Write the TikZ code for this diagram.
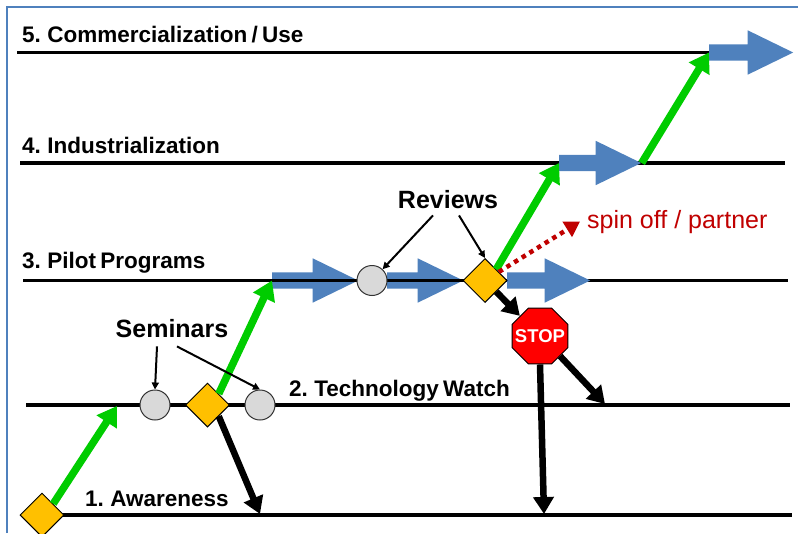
\documentclass[tikz,border=0pt]{standalone}
\usepackage{fontspec}
\setmainfont{Liberation Sans}
\usetikzlibrary{arrows.meta,shapes.geometric,shapes.arrows}
\definecolor{framecol}{HTML}{4F81BD}
\definecolor{flowgreen}{HTML}{00CC00}
\definecolor{spinred}{HTML}{C00000}
\definecolor{gatecol}{HTML}{FFC000}
\newcommand{\titlefont}{\bfseries\fontsize{22.5}{26}\selectfont\spaceskip=.19em\relax}
\begin{document}
\begin{tikzpicture}[x=1pt,y=-1pt,
	level/.style={line width=3.5pt},
	title/.style={anchor=base west,inner sep=0pt,font=\titlefont},
	callout/.style={anchor=base,inner sep=0pt,font=\bfseries\fontsize{25}{30}\selectfont},
	gate/.style={diamond,draw=black,fill=gatecol,line width=1pt,minimum size=44pt,inner sep=0pt},
	meet/.style={circle,draw=black!80,fill=black!15,line width=1pt,minimum size=30pt,inner sep=0pt},
	phase/.style={single arrow,anchor=tail,fill=framecol,minimum width=44pt,single arrow head extend=14pt,single arrow tip angle=52,single arrow head indent=0pt,inner xsep=0pt,inner ysep=8pt},
	go/.style={flowgreen,line width=7.5pt,-{Triangle[length=19pt,width=23pt]}},
	drop/.style={black,line width=6.5pt,-{Triangle[length=17pt,width=20pt]}},
	note/.style={black,line width=2pt,-{Triangle[length=7pt,width=7pt]}}]

\useasboundingbox (0,0) rectangle (798,533);
\draw[framecol,line width=2pt] (7,533) -- (7,7) -- (798,7);

\node[phase,minimum height=86pt] (jag1) at (272,280.5) {};
\node[phase,minimum height=76pt] (jag2) at (387,280.5) {};

\foreach \n/\xa/\xb/\y in {5/17/710/52.5,4/20/785/163,3/23/788/280.5,2/26/790/405,1/60/792/515}{
	\coordinate (a\n) at (\xa,\y);
	\coordinate (b\n) at (\xb,\y);
	\draw[level] (a\n) -- (b\n);
}

\node[title] (t5) at (22,42) {5. Commercialization / Use};
\node[title] (t4) at (22,153) {4. Industrialization};
\node[title] (t3) at (22,268) {3. Pilot Programs};
\node[title] (t2) at (289,396) {2. Technology Watch};
\node[title] (t1) at (85,506) {1. Awareness};
\node[callout] (seminars) at (172,337) {Seminars};
\node[callout] (reviews) at (448,208) {Reviews};
\node[anchor=base west,inner sep=0pt,text=spinred,font=\fontsize{25}{30}\selectfont] (spin) at (587,228) {spin off / partner};

\node[phase,minimum height=83pt] (arrow3) at (507,280.5) {};
\node[phase,minimum height=82pt] (arrow4) at (559,163) {};
\node[phase,minimum height=84pt] (arrow5) at (709,52.5) {};

\node[gate] (d1) at (42,515) {};
\node[gate] (d2) at (207.5,405) {};
\node[gate] (d3) at (485,280.5) {};
\node[meet] (c1) at (155,405) {};
\node[meet] (c2) at (260,405) {};
\node[meet] (c3) at (372,280.5) {};
\node[regular polygon,regular polygon sides=8,draw=black,fill=red,line width=1pt,minimum size=60.5pt,inner sep=0pt] (stop) at (540,336) {};
\node[text=white,inner sep=0pt,font=\bfseries\fontsize{18.5}{22}\selectfont] (stoptext) at (stop) {STOP};

\coordinate (g1) at (117,406);
\coordinate (s1) at (260,514);
\coordinate (s2) at (605,404);
\coordinate (s3) at (544,514);
\coordinate (r1) at ([xshift=-7pt]spin.west);

\draw[go] (d1.north east) -- (g1);
\draw[go] (d2.north east) -- (jag1.tail);
\draw[go] (d3.north east) -- (arrow4.tail);
\draw[go] (arrow4.tip) -- (arrow5.tail);

\draw[drop] (d2.south east) -- (s1);
\draw[drop] (d3.south east) -- (stop.north west);
\draw[drop] (stop.south east) -- (s2);
\draw[drop] (stop.south) -- (s3);

\draw[spinred,line width=4.5pt,dash pattern=on 4.5pt off 4.5pt,-{Triangle[length=15pt,width=17pt]}] (d3) -- (r1);

\draw[note] ([xshift=-15pt,yshift=-9pt]seminars.south) -- (c1.north);
\draw[note] ([xshift=5pt,yshift=-9pt]seminars.south) -- (c2.north);
\draw[note] ([xshift=-15pt,yshift=-7pt]reviews.south) -- (c3);
\draw[note] ([xshift=11pt,yshift=-7pt]reviews.south) -- (d3.north);

\end{tikzpicture}
\end{document}
